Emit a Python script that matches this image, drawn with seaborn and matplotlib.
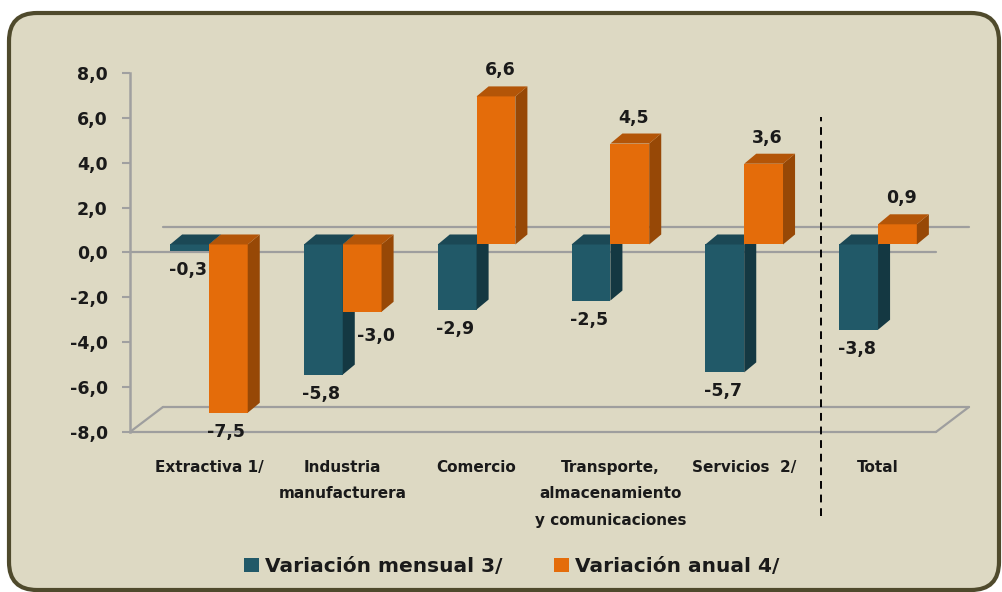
import numpy as np
import pandas as pd
import matplotlib
matplotlib.use("Agg")
import matplotlib.pyplot as plt
import seaborn as sns
from matplotlib.patches import FancyBboxPatch, Polygon
from matplotlib.transforms import ScaledTranslation, IdentityTransform

# data
categories = ["Extractiva 1/", "Industria\nmanufacturera", "Comercio",
              "Transporte,\nalmacenamiento\ny comunicaciones", "Servicios  2/", "Total"]
mensual = [-0.3, -5.8, -2.9, -2.5, -5.7, -3.8]
anual = [-7.5, -3.0, 6.6, 4.5, 3.6, 0.9]
series = ["Variación mensual 3/", "Variación anual 4/"]
y_ticks = [-8, -6, -4, -2, 0, 2, 4, 6, 8]

front = {"Variación mensual 3/": "#215968", "Variación anual 4/": "#E46C0A"}
side = {"Variación mensual 3/": "#143842", "Variación anual 4/": "#974806"}
top = {"Variación mensual 3/": "#1B4855", "Variación anual 4/": "#B35508"}

df = pd.DataFrame({
    "cat": categories * 2,
    "valor": mensual + anual,
    "serie": [series[0]] * len(categories) + [series[1]] * len(categories),
})

sns.set_theme(style="white")
plt.rcParams["font.family"] = ["DejaVu Sans"]

fig = plt.figure(figsize=(10.02, 5.92), dpi=100)
fig.patch.set_facecolor("white")

# rounded beige panel
panel = FancyBboxPatch((9, 2), 990, 577, boxstyle="round,pad=0,rounding_size=28",
                       transform=IdentityTransform(), facecolor="#DDD9C3",
                       edgecolor="#4F4A2C", linewidth=3, zorder=-10)
fig.patches.append(panel)

ax = fig.add_axes([0.1297, 0.2703, 0.8044, 0.6064])
ax.set_facecolor("none")
ax.set_zorder(1)

sns.barplot(data=df, x="cat", y="valor", hue="serie", palette=front,
            width=0.58, gap=0, saturation=1, linewidth=0, ax=ax, legend=True)

ax.set_xlim(-0.59, 5.433)
ax.set_ylim(-8, 8)

# 3D look: lift bars a few pixels and add side/top faces
lift = ScaledTranslation(0, 0.08, fig.dpi_scale_trans)
dx = 0.09
dy = 0.446
n = len(categories)
bars = list(ax.patches)[:2 * n]
for k, p in enumerate(bars):
    s = series[k // n]
    z = 2 if k < n else 3
    p.set_transform(ax.transData + lift)
    p.set_zorder(z)
    x0, w = p.get_x(), p.get_width()
    v = p.get_height() + p.get_y()
    lo, hi = min(0, v), max(0, v)
    sp = Polygon([(x0 + w, lo), (x0 + w + dx, lo + dy), (x0 + w + dx, hi + dy), (x0 + w, hi)],
                 closed=True, facecolor=side[s], edgecolor="none", zorder=z,
                 transform=ax.transData + lift)
    tp = Polygon([(x0, hi), (x0 + dx, hi + dy), (x0 + w + dx, hi + dy), (x0 + w, hi)],
                 closed=True, facecolor=top[s], edgecolor="none", zorder=z,
                 transform=ax.transData + lift)
    ax.add_patch(sp)
    ax.add_patch(tp)
    # value labels
    txt = f"{v:.1f}".replace(".", ",")
    cx = x0 + w / 2
    if v >= 0:
        off = (4, 8 + 26)
    else:
        off = (-2, 8 - 19)
    if k == n + 1:
        off = (14, 8 - 24)
    ax.annotate(txt, (cx, v), xytext=off, textcoords="offset pixels",
                ha="center", va="center", fontsize=12.5, fontweight="bold",
                color="#1A1A1A", zorder=5)

# zero plane and floor (front edge + back edge shifted by depth)
depth = ScaledTranslation(0.33, 0.25, fig.dpi_scale_trans)
gc = "#9E9E9E"
x_a, x_b = ax.get_xlim()
ax.plot([x_a, x_b], [0, 0], color=gc, lw=1.6, zorder=1, clip_on=False)
ax.plot([x_a, x_b], [0, 0], color=gc, lw=1.6, zorder=1, clip_on=False,
        transform=ax.transData + depth)
ax.plot([x_a, x_b], [-8, -8], color=gc, lw=1.6, zorder=1, clip_on=False)
ax.plot([x_a, x_b], [-8, -8], color=gc, lw=1.6, zorder=1, clip_on=False,
        transform=ax.transData + depth)
fig.canvas.draw()
p0 = ax.transData.transform((x_a, -8))
p1 = ax.transData.transform((x_b, -8))
for pp in (p0, p1):
    fig.add_artist(plt.Line2D([pp[0], pp[0] + 33], [pp[1], pp[1] + 25], color=gc, lw=1.6,
                              transform=IdentityTransform(), zorder=1))

# separator before Total
ax.axvline(4.574, ymin=-0.234, ymax=0.877, color="black", lw=1.4,
           linestyle=(0, (4, 3)), clip_on=False, zorder=4)

# axes styling
for sp_name in ["top", "right", "bottom"]:
    ax.spines[sp_name].set_visible(False)
ax.spines["left"].set_color("#A0A0A0")
ax.spines["left"].set_linewidth(1.8)
ax.set_yticks(y_ticks)
ax.set_yticklabels([f"{t:.1f}".replace(".", ",") for t in y_ticks],
                   fontsize=12.5, fontweight="bold", color="#1A1A1A")
ax.tick_params(axis="y", length=6, width=1.5, color="#A0A0A0", pad=10, left=True)
ax.set_xticks(range(n))
ax.set_xticklabels(categories, fontsize=11, fontweight="bold", color="#1A1A1A",
                   linespacing=1.95, va="top")
ax.tick_params(axis="x", length=0, pad=20)
ax.set_xlabel("")
ax.set_ylabel("")

handles, labels = ax.get_legend_handles_labels()
ax.legend(handles, labels, loc="center", bbox_to_anchor=(0.5105, 0.043),
          bbox_transform=fig.transFigure, ncol=2, frameon=False,
          handlelength=0.75, handleheight=0.75, handletextpad=0.3,
          columnspacing=2.55, prop={"size": 14.5, "weight": "bold"})
for t in ax.get_legend().get_texts():
    t.set_color("#1A1A1A")

fig.savefig("out.png", dpi=100)
plt.close(fig)
